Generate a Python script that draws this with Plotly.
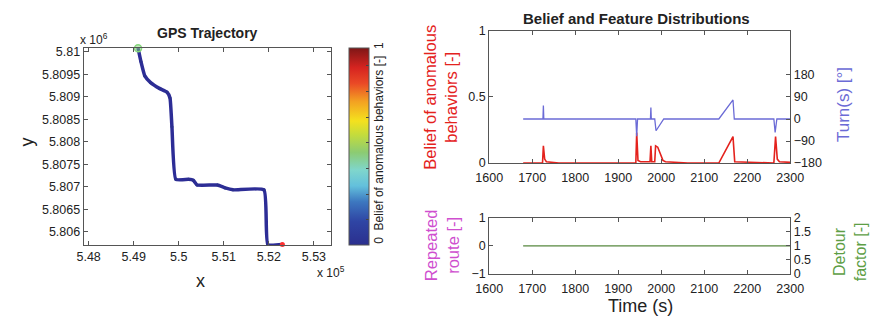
import plotly.graph_objects as go

W, H = 870, 328

# ---- GPS trajectory (UTM metres) ----
traj_x_m = [549097, 549161, 549247, 549376, 549570, 549742, 549806, 549849, 549935,
            550215, 550323, 550409, 550860, 551032, 551204, 551892, 551978, 552301]
traj_y_m = [5810085, 5809787, 5809468, 5809319, 5809191, 5809106, 5808979, 5808340, 5807170,
            5807170, 5807149, 5807043, 5807043, 5806979, 5806936, 5806936, 5805723, 5805723]
traj_belief = [0.0, 0.0, 0.0, 0.0, 0.0, 0.0, 0.0, 0.0, 0.0,
               0.0, 0.0, 0.0, 0.0, 0.0, 0.0, 0.0, 0.0, 0.0]

# ---- Turn angle over time ----
turn_t = [1679, 1725, 1726, 1727, 1941, 1943, 1945, 1975, 1976, 1977, 1985, 1988, 2006,
          2134, 2167, 2170, 2262, 2265, 2269, 2300]
turn_deg = [0, 0, 55, 0, 0, -70, 0, 0, 47, 0, 0, -48, 0,
            0, 78, 0, 0, -55, 0, 0]

# ---- Belief of anomalous behaviour over time ----
belief_t = [1679, 1724, 1726, 1729, 1733, 1760, 1762, 1941, 1943, 1946, 1952, 1974, 1976,
            1978, 1985, 1987, 1992, 1998, 2004, 2010, 2060, 2062, 2134, 2167, 2171, 2220,
            2222, 2262, 2266, 2270, 2275, 2300]
belief = [0, 0, 0.13, 0.03, 0.01, 0.005, 0, 0, 0.23, 0.02, 0.01, 0.01, 0.13,
          0.01, 0.01, 0.13, 0.12, 0.07, 0.02, 0.01, 0.005, 0, 0, 0.2, 0.01, 0.005,
          0, 0, 0.2, 0.03, 0.01, 0.005]

# ---- Route features ----
route_t = [1679, 2300]
repeated_route = [0, 0]
detour_factor = [1, 1]

RED = "#e4221d"
BLUE = "#6b6bd6"
GREEN = "#5d9e45"
MAGENTA = "#cf4fcf"
NAVY = "#2d2d96"
FONT = "Liberation Sans, Arial, sans-serif"

jet_muted = [[0.0, "#2b2f8e"], [0.12, "#2f45a4"], [0.22, "#3d78c0"], [0.3, "#63c0dc"],
             [0.38, "#7fd6cc"], [0.47, "#8ccb72"], [0.56, "#c4dc3c"], [0.63, "#f4e11e"],
             [0.73, "#f3a022"], [0.82, "#ea4a26"], [0.9, "#d62420"], [1.0, "#7e1616"]]


def px_x(p):
    return p / W


def px_y(p):
    return 1 - p / H


fig = go.Figure()

fig.add_trace(go.Scatter(
    x=[v / 1e5 for v in traj_x_m], y=[v / 1e6 for v in traj_y_m],
    mode="lines+markers", line=dict(color=NAVY, width=3.5, shape="spline", smoothing=0.4),
    marker=dict(size=3, color=traj_belief, colorscale=jet_muted, cmin=0, cmax=1,
                showscale=True,
                colorbar=dict(x=px_x(346), xanchor="left", y=px_y(146), yanchor="middle",
                              len=206 / H, lenmode="fraction", thickness=20,
                              thicknessmode="pixels", xpad=0, ypad=0,
                              outlinewidth=1, outlinecolor="#555",
                              showticklabels=False, ticks="inside", ticklen=3,
                              tickcolor="#444", tickvals=[0.13, 0.26, 0.39, 0.52, 0.65, 0.78, 0.91])),
    xaxis="x", yaxis="y", showlegend=False))

# start / end points
fig.add_trace(go.Scatter(x=[traj_x_m[0] / 1e5], y=[traj_y_m[0] / 1e6], mode="markers",
                         marker=dict(size=7, color="rgba(134,214,124,0.5)",
                                     line=dict(color="#86d67c", width=1.5)),
                         xaxis="x", yaxis="y", showlegend=False, cliponaxis=False))
fig.add_trace(go.Scatter(x=[traj_x_m[-1] / 1e5], y=[traj_y_m[-1] / 1e6], mode="markers",
                         marker=dict(size=5, color="#ff3030"),
                         xaxis="x", yaxis="y", showlegend=False, cliponaxis=False))

fig.add_trace(go.Scatter(x=belief_t, y=belief, mode="lines", line=dict(color=RED, width=1.6),
                         xaxis="x2", yaxis="y2", showlegend=False))
fig.add_trace(go.Scatter(x=turn_t, y=turn_deg, mode="lines", line=dict(color=BLUE, width=1.3),
                         xaxis="x2", yaxis="y3", showlegend=False))
fig.add_trace(go.Scatter(x=route_t, y=repeated_route, mode="lines",
                         line=dict(color=MAGENTA, width=0.5),
                         xaxis="x3", yaxis="y4", showlegend=False))
fig.add_trace(go.Scatter(x=route_t, y=detour_factor, mode="lines",
                         line=dict(color=GREEN, width=1.4),
                         xaxis="x3", yaxis="y5", showlegend=False))

axis_common = dict(showline=True, linecolor="#555", linewidth=1, ticks="inside",
                   ticklen=4, tickcolor="#555", showgrid=False, zeroline=False,
                   tickfont=dict(family=FONT, size=12.5, color="#222"))

left_x_ticks = [5.48, 5.49, 5.50, 5.51, 5.52, 5.53]
left_y_ticks = [5.806, 5.8065, 5.807, 5.8075, 5.808, 5.8085, 5.809, 5.8095, 5.81]
time_ticks = [1600, 1700, 1800, 1900, 2000, 2100, 2200, 2300]

fig.update_layout(
    width=W, height=H, margin=dict(l=0, r=0, t=0, b=0),
    paper_bgcolor="white", plot_bgcolor="white",
    font=dict(family=FONT, color="#222"),
    xaxis=dict(domain=[px_x(72), px_x(328)], range=[5.4789, 5.5339], anchor="y",
               tickvals=left_x_ticks, ticktext=["5.48", "5.49", "5.5", "5.51", "5.52", "5.53"],
               mirror="ticks", **axis_common),
    yaxis=dict(domain=[px_y(249), px_y(43)], range=[5.805702, 5.810085], anchor="x",
               tickvals=left_y_ticks,
               ticktext=["5.806", "5.8065", "5.807", "5.8075", "5.808", "5.8085",
                         "5.809", "5.8095", "5.81"],
               mirror="ticks", **axis_common),
    xaxis2=dict(domain=[px_x(491), px_x(802)], range=[1600, 2300], anchor="y2",
                tickvals=time_ticks, mirror="ticks", ticklabelstandoff=3, **axis_common),
    yaxis2=dict(domain=[px_y(163), px_y(25)], range=[0, 1], anchor="x2",
                tickvals=[0, 0.5, 1], ticktext=["0", "0.5", "1"], **axis_common),
    yaxis3=dict(overlaying="y2", side="right", anchor="x2", range=[-180, 360],
                tickvals=[-180, -90, 0, 90, 180], **axis_common),
    xaxis3=dict(domain=[px_x(491), px_x(802)], range=[1600, 2300], anchor="y4",
                tickvals=time_ticks, mirror="ticks", ticklabelstandoff=3, **axis_common),
    yaxis4=dict(domain=[px_y(279), px_y(220)], range=[-1, 1], anchor="x3",
                tickvals=[-1, 0, 1], **axis_common),
    yaxis5=dict(overlaying="y4", side="right", anchor="x3", range=[0, 2],
                tickvals=[0, 0.5, 1, 1.5, 2], ticktext=["0", "0.5", "1", "1.5", "2"],
                **axis_common),
)


def label(text, x, y, size=17, color="#222", angle=0, bold=False, xanchor="center"):
    fig.add_annotation(text=f"<b>{text}</b>" if bold else text,
                       x=px_x(x), y=px_y(y), xref="paper", yref="paper",
                       xanchor=xanchor, yanchor="middle", showarrow=False,
                       textangle=angle, font=dict(family=FONT, size=size, color=color))


label("GPS Trajectory", 200, 27, size=14, bold=True)
label("Belief and Feature Distributions", 643, 12, size=15, bold=True)
label("x", 193, 286, size=18)
label("y", 13, 141, size=18, angle=-90)
label("x 10<sup>6</sup>", 83, 33, size=12)
label("x 10<sup>5</sup>", 328, 277, size=12)
label("0  Belief of anomalous behaviors [-]  1", 377, 142, size=12, angle=-90)
label("Belief of anomalous<br>behaviors [-]", 441, 94, size=16.5, color=RED, angle=-90)
label("Turn(s) [°]", 857, 102, size=17, color=BLUE, angle=-90)
label("Repeated<br>route [-]", 442, 249, size=16.5, color=MAGENTA, angle=-90)
label("Detour<br>factor [-]", 864, 256, size=16, color=GREEN, angle=-90)
label("Time (s)", 647, 312, size=18)

fig.write_html("out.html")
